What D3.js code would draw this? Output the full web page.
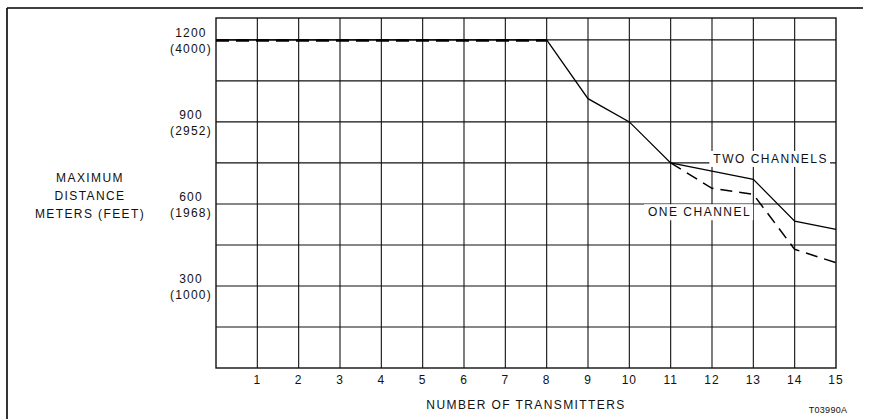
<!DOCTYPE html>
<html>
<head>
<meta charset="utf-8">
<script src="https://cdn.jsdelivr.net/npm/d3@7"></script>
<style>
  html, body { margin: 0; padding: 0; background: #fff; }
  svg { display: block; }
  text { font-family: "Liberation Sans", Arial, Helvetica, sans-serif; fill: #111; }
</style>
</head>
<body>
<svg id="chart" width="869" height="419"></svg>
<script>
// ---- data ----
const transmitters = [0, 1, 2, 3, 4, 5, 6, 7, 8, 9, 10, 11, 12, 13, 14, 15];
const twoChannels  = [1200, 1200, 1200, 1200, 1200, 1200, 1200, 1200, 1200, 985, 900, 750, 720, 690, 537, 507];
const oneChannel   = [1200, 1200, 1200, 1200, 1200, 1200, 1200, 1200, 1200, null, null, 750, 657, 635, 434, 385];
const xTickValues  = [1, 2, 3, 4, 5, 6, 7, 8, 9, 10, 11, 12, 13, 14, 15];
const yTickMeters  = [1200, 900, 600, 300];
const yTickFeet    = ["(4000)", "(2952)", "(1968)", "(1000)"];
const yGridValues  = [150, 300, 450, 600, 750, 900, 1050, 1200];
const yAxisTitle   = ["MAXIMUM", "DISTANCE", "METERS (FEET)"];
const xAxisTitle   = "NUMBER OF TRANSMITTERS";
const seriesLabels = ["TWO CHANNELS", "ONE CHANNEL"];
const labelAnchorX = [13.42, 11.7];
const labelAnchorY = [750, 555];
const figureCode   = "T03990A";

(function () {
// ---- layout ----
const svg = d3.select("#chart");
const pLeft = 216, pRight = 836, pTop = 18, pBottom = 368;
const x = d3.scaleLinear().domain([0, 15]).range([pLeft, pRight]);
const y = d3.scaleLinear().domain([0, 1280]).range([pBottom, pTop]);

// outer frame (left and top edges)
svg.append("line").attr("x1", 7).attr("y1", 8).attr("x2", 7).attr("y2", 419)
  .attr("stroke", "#000").attr("stroke-width", 1.6);
svg.append("line").attr("x1", 7).attr("y1", 8).attr("x2", 863).attr("y2", 8)
  .attr("stroke", "#000").attr("stroke-width", 1.4);

// grid
const g = svg.append("g");
g.selectAll("line.v").data(xTickValues.slice(0, -1)).join("line")
  .attr("x1", d => x(d)).attr("x2", d => x(d))
  .attr("y1", pTop).attr("y2", pBottom)
  .attr("stroke", "#111").attr("stroke-width", 1.1);
g.selectAll("line.h").data(yGridValues).join("line")
  .attr("x1", pLeft).attr("x2", pRight)
  .attr("y1", d => y(d)).attr("y2", d => y(d))
  .attr("stroke", "#111").attr("stroke-width", 1.1);
g.append("rect").attr("x", pLeft).attr("y", pTop)
  .attr("width", pRight - pLeft).attr("height", pBottom - pTop)
  .attr("fill", "none").attr("stroke", "#111").attr("stroke-width", 1.4);

// x axis tick labels
svg.append("g").selectAll("text").data(xTickValues).join("text")
  .attr("x", d => x(d)).attr("y", 384)
  .attr("text-anchor", "middle")
  .style("font-size", "12px").style("letter-spacing", "1px")
  .text(d => d);

// x axis title
svg.append("text").attr("x", (pLeft + pRight) / 2).attr("y", 409)
  .attr("text-anchor", "middle")
  .style("font-size", "12px").style("letter-spacing", "1.4px")
  .text(xAxisTitle);

// y tick labels
const yl = svg.append("g");
yl.selectAll("text.m").data(yTickMeters).join("text")
  .attr("class", "m")
  .attr("x", 191).attr("y", d => y(d) - 2.7)
  .attr("text-anchor", "middle")
  .style("font-size", "12px").style("letter-spacing", "1.2px")
  .text(d => d);
yl.selectAll("text.f").data(yTickMeters).join("text")
  .attr("class", "f")
  .attr("x", 191).attr("y", d => y(d) + 12.8)
  .attr("text-anchor", "middle")
  .style("font-size", "12px").style("letter-spacing", "1.2px")
  .text((d, i) => yTickFeet[i]);

// y axis title
svg.append("g").selectAll("text").data(yAxisTitle).join("text")
  .attr("x", 90).attr("y", (d, i) => 181.7 + i * 18)
  .attr("text-anchor", "middle")
  .style("font-size", "12px").style("letter-spacing", "1.4px")
  .text(d => d);

// series labels with white backing (interrupt grid)
const lab = svg.append("g");
seriesLabels.forEach((t, i) => {
  const grp = lab.append("g");
  const tx = grp.append("text")
    .attr("x", x(labelAnchorX[i])).attr("y", y(labelAnchorY[i]))
    .attr("text-anchor", "middle")
    .style("font-size", "12px").style("letter-spacing", "1.5px")
    .text(t);
  const bb = tx.node().getBBox();
  grp.insert("rect", "text")
    .attr("x", bb.x - 4).attr("y", bb.y - 1)
    .attr("width", bb.width + 6).attr("height", bb.height + 2)
    .attr("fill", "#fff");
});

// lines
const lineGen = d3.line()
  .defined(d => d[1] != null)
  .x(d => x(d[0])).y(d => y(d[1]));
svg.append("path")
  .datum(transmitters.map((t, i) => [t, twoChannels[i]]))
  .attr("d", lineGen).attr("fill", "none")
  .attr("stroke", "#000").attr("stroke-width", 1.3);
const oneData = transmitters.map((t, i) => [t, oneChannel[i]]).filter(d => d[1] != null);
svg.append("path")
  .datum(oneData.filter(d => d[0] <= 8))
  .attr("d", lineGen).attr("fill", "none")
  .attr("stroke", "#000").attr("stroke-width", 2.6)
  .attr("stroke-dasharray", "13,7")
  .attr("transform", "translate(0,0.6)");
svg.append("path")
  .datum(oneData.filter(d => d[0] >= 11))
  .attr("d", lineGen).attr("fill", "none")
  .attr("stroke", "#000").attr("stroke-width", 1.5)
  .attr("stroke-dasharray", "12,7");

// figure code
svg.append("text").attr("x", 828).attr("y", 412.7)
  .attr("text-anchor", "middle")
  .style("font-size", "9px").style("letter-spacing", "0.3px")
  .text(figureCode);
})();
</script>
</body>
</html>
